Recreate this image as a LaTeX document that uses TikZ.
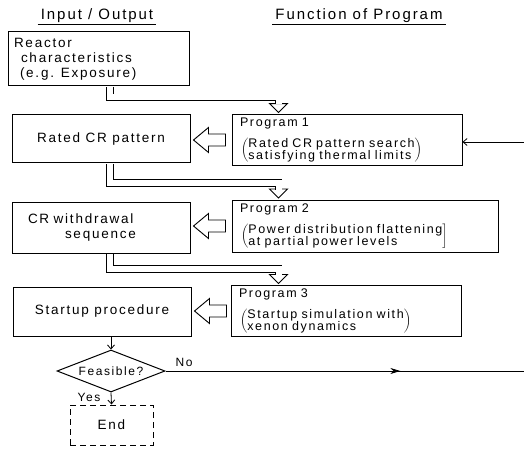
\documentclass[tikz,border=0pt]{standalone}
\usepackage{fontspec}
\setmainfont{Liberation Sans}[LetterSpace=13]
\usetikzlibrary{positioning,arrows.meta,calc,shapes.geometric,decorations.markings}
\renewcommand{\arraystretch}{0.7}
\newcommand{\twoline}[3]{\hspace*{1pt}$\left(\begin{tabular}{@{}l@{}}#1\\#2\end{tabular}\right#3$}

\begin{document}
\begin{tikzpicture}[x=1pt,y=-1pt,
      box/.style={draw,line width=1pt,minimum width=178pt,minimum height=48pt,
        font=\fontsize{13.5}{15}\selectfont,align=center},
      prog/.style={draw,line width=1pt,minimum height=50pt,inner xsep=8pt,
        align=left,font=\fontsize{12.5}{12.5}\selectfont},
      decision/.style={diamond,draw,line width=1pt,minimum width=108pt,minimum height=42pt,
        inner sep=0pt,aspect=2.6,font=\fontsize{12}{12}\selectfont},
      final/.style={draw,line width=1pt,dash pattern=on 6pt off 4pt,minimum width=83pt,
        minimum height=40pt,font=\fontsize{13.5}{15}\selectfont},
      title/.style={font=\fontsize{15}{16}\selectfont,inner xsep=3pt,inner ysep=1pt},
      lbl/.style={font=\fontsize{12}{12}\selectfont,inner sep=1pt},
      edge/.style={line width=0.8pt,-{Straight Barb[length=4pt,width=7pt]}},
      fat/.style={draw,line width=0.9pt,fill=white,line join=miter},
      pipe/.style={double,double distance=6pt,line width=0.8pt,line join=miter},
      midarrow/.style={line width=0.8pt,postaction={decorate},decoration={markings,
        mark=at position 0.655 with {\arrow{Stealth[length=10pt,width=6pt]}}}}
    ]
    \fill[white] (0,0) rectangle (524,449);
    \useasboundingbox (0,0) rectangle (524,449);
    % column titles
    \node[title] (hio) at (97,16) {Input / Output};
    \node[title] (hfn) at (359,16) {Function of Program};
    \draw[line width=0.8pt] (hio.south west) -- (hio.south east);
    \draw[line width=0.8pt] (hfn.south west) -- (hfn.south east);
    % input / output column
    \node[box,minimum width=181pt,minimum height=54pt,inner xsep=6pt,text width=169pt,align=left]
      (react) at (98.5,59) {Reactor\\\hspace*{7pt}characteristics\\\hspace*{6pt}(e.g. Exposure)};
    \node[box] (rated) at (101,139) {Rated CR pattern};
    \node[box,minimum height=51pt,inner xsep=16pt,text width=146pt,align=left]
      (seq) at (101,227.5) {CR withdrawal\\\hspace*{37pt}sequence};
    \node[box,minimum height=49pt] (start) at (102,311.5) {Startup procedure};
    \node[decision] (feas) at (111,371) {Feasible?};
    \node[final] (fin) at (111.5,425) {End};
    % program column
    \node[prog,text width=214pt] (prog1) at (347,140)
      {Program 1\\[8pt]\twoline{Rated CR pattern search}{satisfying thermal limits}{)}};
    \node[prog,text width=250pt,minimum height=52pt] (prog2) at (365,226)
      {Program 2\\[8pt]\twoline{Power distribution flattening}{at partial power levels}{]}};
    \node[prog,text width=214pt] (prog3) at (346,311)
      {Program 3\\[8pt]\twoline{Startup simulation with}{xenon dynamics}{)}};
    % hollow pipes down to the programs
    \foreach \src/\dst/\yy in {react/prog1/97.5,rated/prog2/183,seq/prog3/269}{
      \coordinate (bend) at (110,\yy);
      \coordinate (turn) at (278.5,\yy);
      \coordinate (tip) at ($(\dst.north -| turn)+(0,-1.5)$);
      \draw[fat] ($(tip)+(-9,-9)$) -- (tip) -- ($(tip)+(9,-9)$) -- cycle;
      \draw[pipe] ($(\src.south -| bend)+(0,0.5)$) -- (bend) -- (turn) -- ($(tip)+(0,-8.4)$);
    }
    % hollow arrows back to the left column
    \foreach \lft/\rgt in {rated/prog1,seq/prog2,start/prog3}{
      \draw[fat] ($(\lft.east |- \rgt.west)+(3,0)$) -- ++(15,-12.5) -- ++(0,6.5) -- ++(17,0)
        -- ++(0,12) -- ++(-17,0) -- ++(0,6.5) -- cycle;
    }
    % decision
    \coordinate (fb) at (524,142);
    \coordinate (noend) at (524,371);
    \draw[edge] (fb) -- (fb -| prog1.east);
    \draw[edge] (start.south -| feas.north) -- (feas.north);
    \draw[edge] (feas.south) -- (fin.north);
    \draw[midarrow] (feas.east) -- (noend);
    \node[lbl] (no) at (184,362) {No};
    \node[lbl] (yes) at (89,397) {Yes};
  \end{tikzpicture}
\end{document}
